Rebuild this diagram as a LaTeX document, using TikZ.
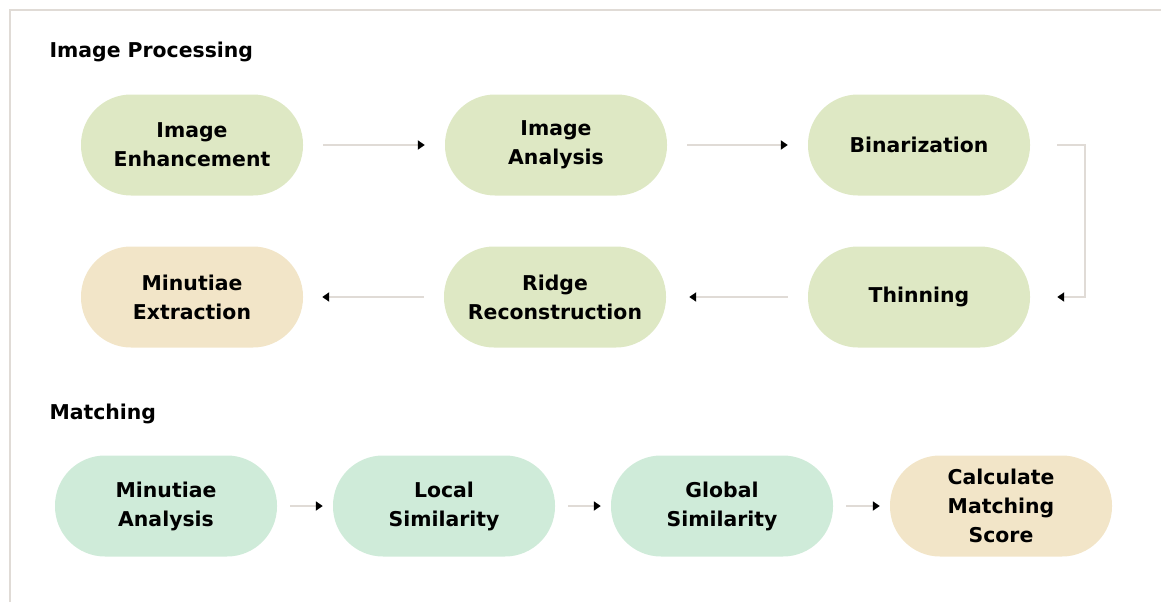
\documentclass[tikz,border=0pt]{standalone}
\usepackage{fontspec}
\setmainfont{DejaVu Sans}
\usetikzlibrary{arrows.meta}
\definecolor{procgreen}{HTML}{DEE8C4}
\definecolor{matchgreen}{HTML}{CFEBD9}
\definecolor{resulttan}{HTML}{F2E5C8}
\definecolor{linegrey}{HTML}{E0DBD6}

\begin{document}
\begin{tikzpicture}[x=1pt, y=-1pt, every node/.style={font=\bfseries\fontsize{20.4}{29}\selectfont},
	stage/.style={rectangle, rounded corners=50pt, minimum width=222pt, minimum height=101pt, align=center, inner sep=0pt},
	flow/.style={draw=linegrey, line width=1.8pt, -{Triangle[length=7pt, width=9pt, color=black]}}]
	\useasboundingbox (0,0) rectangle (1161,602);
	\draw[linegrey, line width=2pt] (10,602) -- (10,10) -- (1161,10);
	\node[anchor=base west] (proc) at (46,58) {Image Processing};
	\node[anchor=base west] (match) at (46,419) {Matching};
	% image processing
	\node[stage, fill=procgreen] (enh) at (192,145) {Image\\Enhancement};
	\node[stage, fill=procgreen] (ana) at (556,145) {Image\\Analysis};
	\node[stage, fill=procgreen] (bin) at (919,145) {Binarization};
	\node[stage, fill=procgreen] (thin) at (919,297) {Thinning};
	\node[stage, fill=procgreen] (ridge) at (555,297) {Ridge\\Reconstruction};
	\node[stage, fill=resulttan] (ext) at (192,297) {Minutiae\\Extraction};
	% matching
	\node[stage, fill=matchgreen] (mana) at (166,506) {Minutiae\\Analysis};
	\node[stage, fill=matchgreen] (loc) at (444,506) {Local\\Similarity};
	\node[stage, fill=matchgreen] (glob) at (722,506) {Global\\Similarity};
	\node[stage, fill=resulttan] (score) at (1001,506) {Calculate\\Matching\\Score};
	\draw[flow, shorten <=20pt, shorten >=20pt] (enh) -- (ana);
	\draw[flow, shorten <=20pt, shorten >=20pt] (ana) -- (bin);
	\draw[flow, shorten <=27pt, shorten >=27pt] (bin.east) -- ++(55,0) |- (thin.east);
	\draw[flow, shorten <=20pt, shorten >=23pt] (thin) -- (ridge);
	\draw[flow, shorten <=20pt, shorten >=19pt] (ridge) -- (ext);
	\foreach \a/\b in {mana/loc, loc/glob, glob/score} {\draw[flow, shorten <=13pt, shorten >=10pt] (\a) -- (\b);}
\end{tikzpicture}
\end{document}
